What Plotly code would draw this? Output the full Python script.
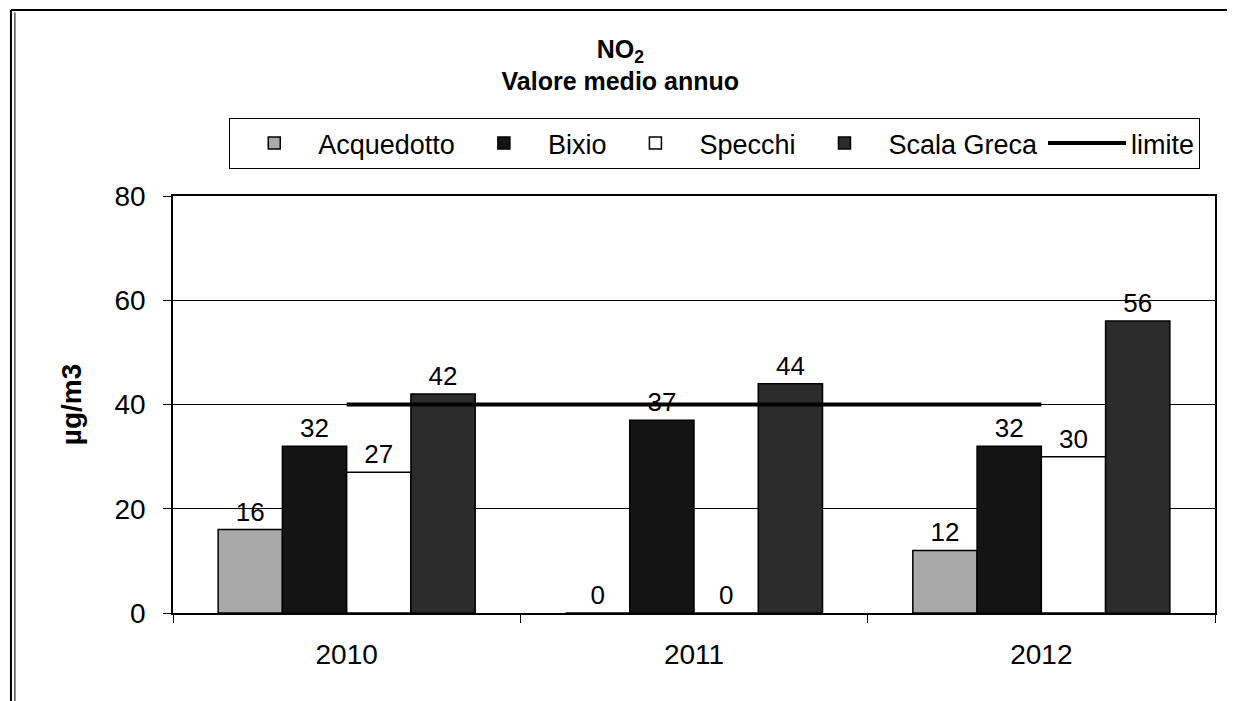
import plotly.graph_objects as go

years = ["2010", "2011", "2012"]
acquedotto = [16, 0, 12]
bixio = [32, 37, 32]
specchi = [27, 0, 30]
scala_greca = [42, 44, 56]
limite = [40, 40, 40]

FONT = "Arial, Liberation Sans, sans-serif"

series = [
    ("Acquedotto", acquedotto, "#a9a9a9"),
    ("Bixio", bixio, "#141414"),
    ("Specchi", specchi, "#ffffff"),
    ("Scala Greca", scala_greca, "#2c2c2c"),
]

fig = go.Figure()
for name, vals, col in series:
    fig.add_trace(go.Bar(
        name=name, x=years, y=vals,
        marker=dict(color=col, line=dict(color="black", width=1.5)),
        text=[str(v) for v in vals], textposition="outside",
        textfont=dict(family=FONT, size=26, color="black"),
        cliponaxis=False,
    ))

fig.add_trace(go.Scatter(
    name="limite", x=years, y=limite, mode="lines",
    line=dict(color="black", width=4),
))

fig.update_layout(
    width=1227, height=693,
    paper_bgcolor="white", plot_bgcolor="white",
    margin=dict(l=165, r=20, t=188, b=88),
    barmode="group", bargap=0.26, bargroupgap=0,
    font=dict(family=FONT, color="black"),
    title=dict(
        text="<b>NO<sub>2</sub><br>Valore medio annuo</b>",
        x=0.499, xanchor="center", xref="container",
        y=0.928, yanchor="top", yref="container",
        font=dict(family=FONT, size=25, color="black"),
    ),
    legend=dict(
        orientation="h", x=0.054, xanchor="left", y=1.187, yanchor="top",
        bordercolor="black", borderwidth=1, bgcolor="white",
        font=dict(family=FONT, size=27, color="black"),
        traceorder="normal", itemwidth=78,
    ),
    showlegend=True,
    xaxis=dict(
        type="category", showline=True, linecolor="black", linewidth=1.5,
        mirror=True, ticks="outside", tickson="boundaries", ticklen=8,
        tickcolor="black", showgrid=False, ticklabelstandoff=16,
        tickfont=dict(family=FONT, size=28, color="black"),
    ),
    yaxis=dict(
        range=[0, 80], dtick=20, showline=True, linecolor="black", linewidth=1.5,
        mirror=True, ticks="outside", ticklen=8, tickcolor="black",
        showgrid=True, gridcolor="black", gridwidth=1, zeroline=False,
        ticklabelstandoff=12,
        tickfont=dict(family=FONT, size=28, color="black"),
        title=dict(text="<b>µg/m3</b>", font=dict(family=FONT, size=28, color="black"),
                   standoff=25),
    ),
    shapes=[
        dict(type="line", xref="paper", yref="paper", x0=-0.1555, x1=1.03,
             y0=1.446, y1=1.446, line=dict(color="black", width=2)),
        dict(type="line", xref="paper", yref="paper", x0=-0.1555, x1=-0.1555,
             y0=1.446, y1=-0.25, line=dict(color="black", width=2)),
        dict(type="line", xref="paper", yref="paper", x0=-0.1517, x1=-0.1517,
             y0=1.44, y1=-0.25, line=dict(color="black", width=1)),
    ],
)

fig.write_html("out.html")
